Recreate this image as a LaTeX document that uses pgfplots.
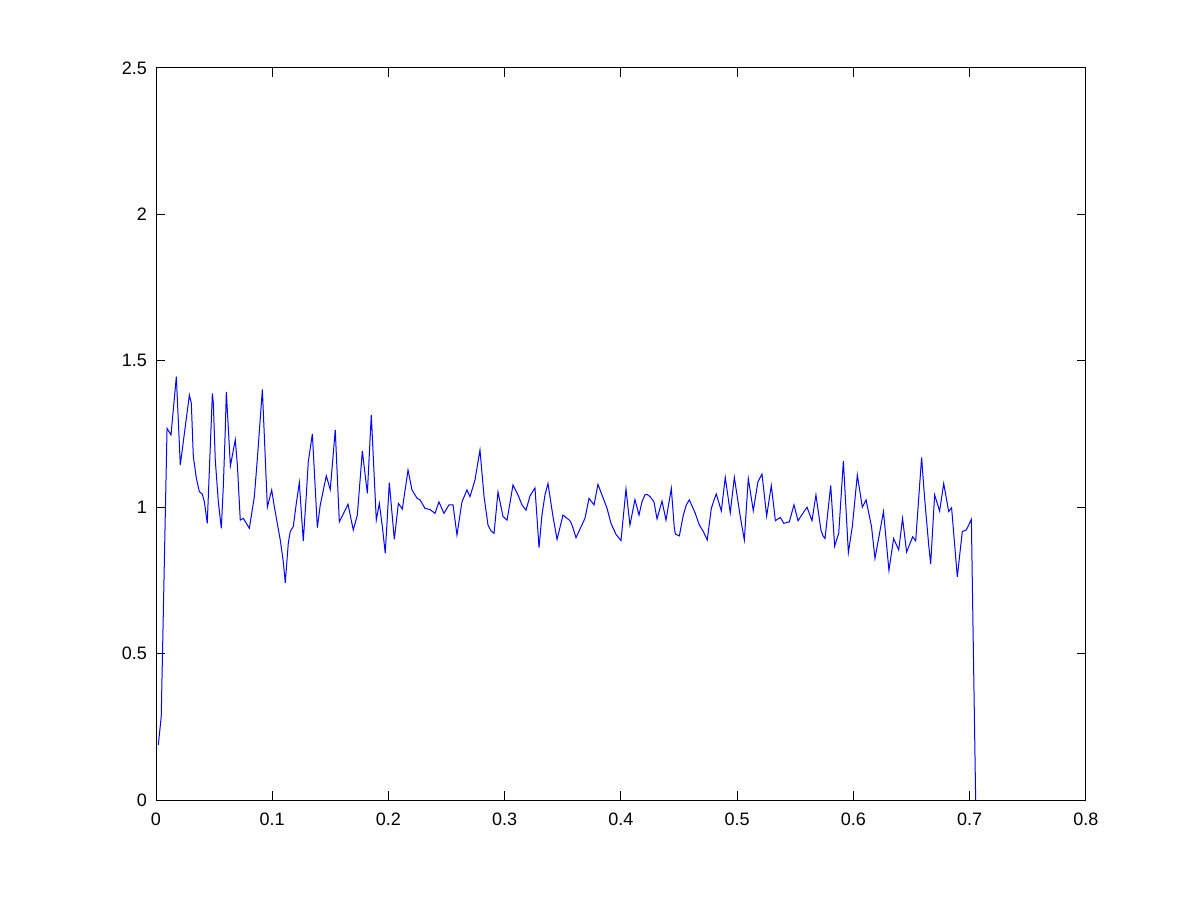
\documentclass[border=0pt]{standalone}
\usepackage{pgfplots}
\pgfplotsset{compat=1.18}
\usepackage{fontspec}
\setmainfont{Liberation Sans}
\begin{document}
\begin{tikzpicture}
\path[use as bounding box] (-78pt,-50pt) rectangle (522pt,400pt);
\begin{axis}[
  scale only axis,
  width=465pt, height=366pt,
  xmin=0, xmax=0.8, ymin=0, ymax=2.5,
  xtick={0,0.1,...,0.8}, ytick={0,0.5,...,2.5},
  tick align=inside, major tick length=4.5pt,
  axis line style={line width=0.5pt},
  every tick/.style={black, line width=0.5pt},
  ticklabel style={font=\fontsize{9}{10}\selectfont},
  /pgf/number format/assume math mode=true,
  xticklabel style={yshift=-3pt},
  yticklabel style={xshift=-1pt},
  clip=true,
]
\addplot[color={rgb,255:red,0;green,0;blue,255}, line width=0.5pt] coordinates {
(0.0020,0.188) (0.0045,0.285) (0.0095,1.269) (0.0129,1.247) (0.0175,1.446)
(0.0209,1.144) (0.0287,1.383) (0.0304,1.355) (0.0321,1.173) (0.0347,1.099)
(0.0373,1.053) (0.0398,1.045) (0.0416,1.019) (0.0441,0.945) (0.0485,1.389)
(0.0493,1.355) (0.0510,1.161) (0.0536,1.019) (0.0562,0.928) (0.0579,1.070)
(0.0596,1.264) (0.0605,1.394) (0.0640,1.141) (0.0682,1.230) (0.0700,1.144)
(0.0725,0.956) (0.0751,0.962) (0.0803,0.928) (0.0846,1.036) (0.0871,1.161)
(0.0915,1.402) (0.0958,1.000) (0.0995,1.059) (0.1018,1.002) (0.1043,0.945)
(0.1069,0.888) (0.1095,0.814) (0.1112,0.742) (0.1138,0.877) (0.1155,0.917)
(0.1181,0.934) (0.1207,1.013) (0.1233,1.084) (0.1267,0.885) (0.1293,1.042)
(0.1310,1.155) (0.1345,1.250) (0.1388,0.930) (0.1413,1.008) (0.1465,1.107)
(0.1499,1.060) (0.1542,1.264) (0.1577,0.950) (0.1652,1.010) (0.1697,0.922)
(0.1732,0.973) (0.1775,1.192) (0.1818,1.047) (0.1852,1.315) (0.1895,0.956)
(0.1921,1.013) (0.1947,0.934) (0.1972,0.843) (0.2007,1.084) (0.2050,0.890)
(0.2085,1.013) (0.2119,0.994) (0.2168,1.127) (0.2202,1.059) (0.2245,1.031)
(0.2271,1.025) (0.2314,0.996) (0.2357,0.992) (0.2400,0.979) (0.2434,1.018)
(0.2477,0.979) (0.2520,1.008) (0.2555,1.008) (0.2589,0.905) (0.2632,1.018)
(0.2675,1.059) (0.2701,1.036) (0.2744,1.093) (0.2787,1.195) (0.2822,1.036)
(0.2856,0.939) (0.2882,0.919) (0.2908,0.911) (0.2942,1.052) (0.2985,0.968)
(0.3020,0.956) (0.3071,1.076) (0.3114,1.042) (0.3148,1.008) (0.3183,0.990)
(0.3217,1.038) (0.3260,1.066) (0.3295,0.862) (0.3320,0.973) (0.3346,1.042)
(0.3372,1.081) (0.3415,0.968) (0.3450,0.890) (0.3501,0.973) (0.3561,0.954)
(0.3579,0.939) (0.3613,0.896) (0.3690,0.962) (0.3725,1.030) (0.3768,1.008)
(0.3802,1.078) (0.3880,0.996) (0.3914,0.945) (0.3957,0.907) (0.4000,0.886)
(0.4043,1.062) (0.4077,0.939) (0.4120,1.026) (0.4155,0.973) (0.4180,1.018)
(0.4206,1.042) (0.4224,1.044) (0.4250,1.036) (0.4284,1.018) (0.4310,0.960)
(0.4353,1.021) (0.4387,0.956) (0.4433,1.064) (0.4459,0.927) (0.4468,0.908)
(0.4502,0.902) (0.4536,0.973) (0.4562,1.008) (0.4588,1.025) (0.4639,0.979)
(0.4674,0.939) (0.4708,0.917) (0.4742,0.888) (0.4777,0.996) (0.4803,1.028)
(0.4820,1.045) (0.4863,0.987) (0.4897,1.102) (0.4940,0.981) (0.4975,1.102)
(0.5026,0.968) (0.5061,0.888) (0.5095,1.098) (0.5138,0.988) (0.5178,1.087)
(0.5213,1.113) (0.5253,0.970) (0.5293,1.074) (0.5328,0.954) (0.5371,0.965)
(0.5400,0.945) (0.5448,0.950) (0.5488,1.008) (0.5523,0.954) (0.5600,1.000)
(0.5643,0.954) (0.5677,1.042) (0.5720,0.922) (0.5738,0.902) (0.5755,0.893)
(0.5804,1.074) (0.5838,0.867) (0.5873,0.911) (0.5913,1.158) (0.5956,0.845)
(0.5990,0.934) (0.6033,1.110) (0.6076,1.000) (0.6108,1.025) (0.6155,0.934)
(0.6185,0.825) (0.6258,0.985) (0.6305,0.784) (0.6345,0.893) (0.6389,0.854)
(0.6422,0.962) (0.6457,0.847) (0.6509,0.899) (0.6535,0.885) (0.6586,1.170)
(0.6612,1.030) (0.6647,0.871) (0.6664,0.806) (0.6698,1.042) (0.6741,0.987)
(0.6776,1.081) (0.6819,0.985) (0.6844,0.998) (0.6893,0.762) (0.6936,0.917)
(0.6970,0.922) (0.7014,0.958) (0.7051,0.000)
};
\end{axis}
\end{tikzpicture}
\end{document}
